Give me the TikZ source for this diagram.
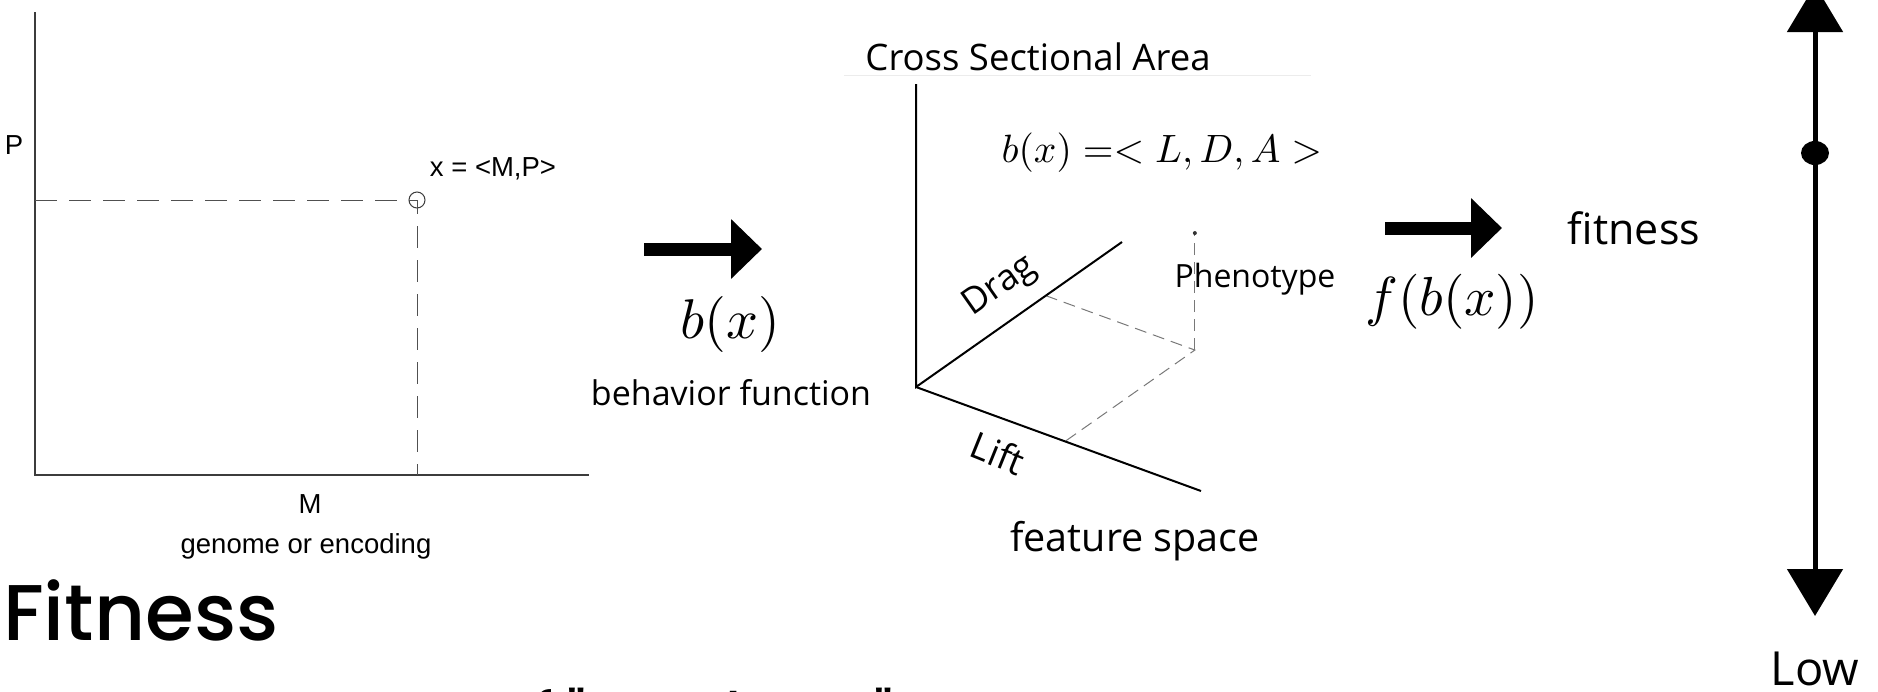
\documentclass[tikz,border=0pt]{standalone}
\usepackage[no-math]{fontspec}
\setmainfont{Open Sans}
\newfontfamily\arialfont{Liberation Sans}
\newfontfamily\headfont{Poppins Medium}
\usetikzlibrary{arrows.meta,calc}
\definecolor{axisgray}{RGB}{60,60,60}
\definecolor{dashgray}{RGB}{80,80,80}
\definecolor{cubegray}{RGB}{120,120,120}
\definecolor{framegray}{RGB}{236,236,236}
\newcommand{\pxsize}[1]{\fontsize{#1}{#1}\selectfont}

\begin{document}
\begin{tikzpicture}[x=1pt, y=-1pt,
  fatarrow/.style={line width=13pt, -{Triangle[length=31pt, width=58pt]}},
  scalebar/.style={line width=5pt,
    {Triangle[length=47pt, width=55pt]}-{Triangle[length=47pt, width=55pt]}},
  gplot/.style={axisgray, line width=1.2pt},
  gdash/.style={dashgray, line width=1pt, dash pattern=on 22pt off 12pt},
  fdash/.style={cubegray, line width=1pt, dash pattern=on 12pt off 7pt},
  faxis/.style={black, line width=2pt},
  glabel/.style={font=\arialfont\pxsize{27.5}, inner sep=0pt}]

\useasboundingbox (0,0) rectangle (1878,691);
\clip (0,0) rectangle (1878,691);

% =====================================================================
% Genome space: M on the horizontal axis, P on the vertical axis,
% one point x = <M,P> with its dashed projections.
% =====================================================================
\coordinate (gO) at (35,475);
\coordinate (gY) at (35,12);
\coordinate (gX) at (589,475);
\draw[gplot] (gY) -- (gO) -- (gX);

\node[circle, draw=axisgray, line width=1pt, minimum size=16pt, inner sep=0pt]
  (xpt) at (417,200) {};
\draw[gdash] (gO |- xpt) -- (xpt.center) -- (xpt |- gO);

\node[glabel] (plab) at (14,145) {P};
\node[glabel] (xlab) at (493,169) {x = <M,P>};
\node[glabel] (mlab) at (310,504) {M};
\node[glabel] (genome) at (306,546) {genome or encoding};

% --- behavior function arrow ---
\coordinate (b1) at (644,249);
\coordinate (b2) at (762,249);
\draw[fatarrow] (b1) -- (b2);
\node[scale=5.6] (bx) at (730,324) {$b(x)$};
\node[font=\pxsize{34}] (bfun) at (731,393) {behavior function};

% =====================================================================
% Feature space: three axes from a common origin, phenotype point
% found from its feet on the Drag and Lift axes.
% =====================================================================
\draw[framegray, line width=1pt] (844,75) -- (1311,75);

\coordinate (fO) at (916,387);
\coordinate (fC) at (916,84);
\coordinate (fD) at (1122,242);
\coordinate (fL) at (1201,491);
\coordinate (dfoot) at ($(fO)!0.63!(fD)$);
\coordinate (lfoot) at ($(fO)!0.523!(fL)$);
\coordinate (pheno) at ($(dfoot)+(lfoot)-(fO)$);
\coordinate (ptop) at ($(pheno)+(0,-117)$);

\draw[fdash] (dfoot) -- (pheno) -- (lfoot);
\draw[fdash] (pheno) -- (ptop);
\fill[black!80] (ptop) circle (2);
\draw[faxis] (fC) -- (fO) -- (fD);
\draw[faxis] (fO) -- (fL);

\node[font=\pxsize{36.5}] (csa) at (1038,57) {Cross Sectional Area};
\node[scale=3.95] (bdef) at (1162,153) {$b(x) =< L, D, A >$};
\node[font=\pxsize{36}, rotate=35] (drag) at (1000,287) {Drag};
\node[font=\pxsize{37}, rotate=-22] (lift) at (998,453) {Lift};
\node[font=\pxsize{32}] (phen) at (1255,279) {Phenotype};
\node[font=\pxsize{39.5}] (fspace) at (1135,541) {feature space};

% --- fitness function arrow ---
\coordinate (f1) at (1385,228);
\coordinate (f2) at (1502,228);
\draw[fatarrow] (f1) -- (f2);
\node[scale=5.5] (fbx) at (1452,302) {$f(b(x))$};
\node[font=\pxsize{43}] (fitlab) at (1634,228) {fitness};

% --- fitness scale ---
\coordinate (shi) at (1815,-15);
\coordinate (slo) at (1815,616);
\draw[scalebar] (shi) -- (slo);
\fill (1815,153) ellipse [x radius=14, y radius=12];
\node[font=\pxsize{47}, anchor=base] (low) at (1815,685) {Low};

% ===== HEADING (bottom left) =====
\node[font=\headfont\pxsize{79}, anchor=base west, inner sep=0pt]
  (head) at (3,640) {Fitness};
\node[font=\headfont\pxsize{57}, anchor=base west, inner sep=0pt]
  (sub) at (18,733) {A measurement of "Goodness"};

\end{tikzpicture}
\end{document}
